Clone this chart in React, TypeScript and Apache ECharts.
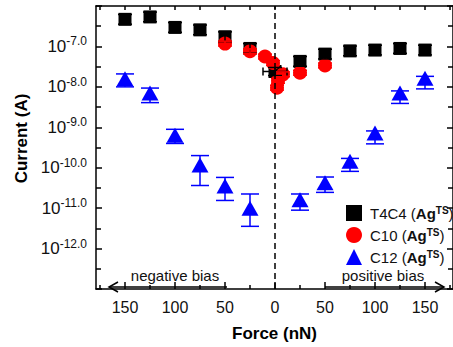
import React, { useEffect, useRef } from "react";
import * as echarts from "echarts";

// Force (nN): negative side = negative bias, shown as absolute values
const t4c4Force = [-150, -125, -100, -75, -50, -25, 0, 25, 50, 75, 100, 125, 150];
const t4c4LogI = [-6.33, -6.27, -6.53, -6.59, -6.76, -7.05, -7.62, -7.37, -7.19, -7.11, -7.09, -7.05, -7.09];
const t4c4Err = [0.12, 0.12, 0.12, 0.12, 0.12, 0.12, 0.1, 0.12, 0.12, 0.12, 0.12, 0.12, 0.12];
const t4c4ForceErr = [0, 0, 0, 0, 0, 0, 12, 0, 0, 0, 0, 0, 0];

const c10Force = [-50, -25, -10, -2, 2, 3, 8, 25, 50];
const c10LogI = [-6.93, -7.12, -7.25, -7.41, -8.02, -7.85, -7.69, -7.65, -7.47];
const c10Err = [0.06, 0.06, 0.06, 0.06, 0.06, 0.06, 0.06, 0.06, 0.06];

const c12Force = [-150, -125, -100, -75, -50, -25, 25, 50, 75, 100, 125, 150];
const c12LogI = [-7.8, -8.15, -9.2, -9.93, -10.45, -11.0, -10.79, -10.37, -9.84, -9.14, -8.15, -7.79];
const c12Hi = [-7.68, -8.03, -9.05, -9.7, -10.24, -10.65, -10.65, -10.23, -9.77, -9.09, -8.1, -7.74];
const c12Lo = [-8.0, -8.39, -9.4, -10.44, -10.81, -11.45, -11.05, -10.61, -10.09, -9.41, -8.41, -8.05];

const xMajorTicks = [-150, -100, -50, 0, 50, 100, 150];
const xMinorTicks = [-175, -125, -75, -25, 25, 75, 125, 175];
const xAllTicks = [-175, -150, -125, -100, -75, -50, -25, 0, 25, 50, 75, 100, 125, 150, 175];
const yLabelDecades = [-12, -11, -10, -9, -8, -7];

export default function App() {
  const ref = useRef<HTMLDivElement>(null);
  useEffect(() => {
    if (!ref.current) return;
    const chart = echarts.init(ref.current, null, { renderer: "svg" });
    const axisLineStyle = { color: "#000", width: 1.5 };
    const xMin = -179;
    const xMax = 178;

    const errData: any[] = [];
    t4c4Force.forEach((f, i) =>
      errData.push([f, t4c4LogI[i], t4c4LogI[i] - t4c4Err[i], t4c4LogI[i] + t4c4Err[i], t4c4ForceErr[i], "#000", 14])
    );
    c10Force.forEach((f, i) =>
      errData.push([f, c10LogI[i], c10LogI[i] - c10Err[i], c10LogI[i] + c10Err[i], 0, "#ff0000", 14])
    );
    c12Force.forEach((f, i) => errData.push([f, c12LogI[i], c12Lo[i], c12Hi[i], 0, "#0000ff", 18]));

    const option: any = {
      animation: false,
      backgroundColor: "#fff",
      grid: { left: 96, right: 0, top: 6, bottom: 50, containLabel: false },
      legend: {
        orient: "vertical",
        left: 341,
        top: 200,
        itemWidth: 16,
        itemHeight: 16,
        itemGap: 6,
        data: [
          { name: "T4C4", icon: "rect" },
          { name: "C10", icon: "circle" },
          { name: "C12", icon: "triangle" },
        ],
        formatter: (name: string) => `{n|${name} (}{b|Ag}{s|TS}{n|)}`,
        textStyle: {
          fontFamily: "Liberation Sans",
          fontSize: 15,
          padding: [0, 0, 0, 3],
          rich: {
            n: { fontSize: 15, color: "#111", fontFamily: "Liberation Sans" },
            b: { fontSize: 15, color: "#111", fontWeight: "bold", fontFamily: "Liberation Sans" },
            s: { fontSize: 10, color: "#111", fontWeight: "bold", verticalAlign: "top", fontFamily: "Liberation Sans" },
          },
        },
      },
      xAxis: [
        {
          type: "value",
          min: xMin,
          max: xMax,
          position: "bottom",
          axisLine: { show: true, onZero: false, lineStyle: axisLineStyle },
          axisTick: { show: true, inside: true, length: 7, customValues: xMajorTicks, lineStyle: axisLineStyle },
          axisLabel: {
            customValues: xMajorTicks,
            formatter: (v: number) => String(Math.abs(v)),
            fontSize: 16,
            color: "#111",
            margin: 10,
            fontFamily: "Liberation Sans",
          },
          splitLine: { show: false },
          name: "Force (nN)",
          nameLocation: "middle",
          nameGap: 36,
          nameTextStyle: { fontWeight: "bold", fontSize: 17, color: "#000", fontFamily: "Liberation Sans" },
        },
        {
          type: "value",
          min: xMin,
          max: xMax,
          position: "bottom",
          axisLine: { show: false, onZero: false },
          axisTick: { show: true, inside: true, length: 4, customValues: xMinorTicks, lineStyle: axisLineStyle },
          axisLabel: { show: false },
          splitLine: { show: false },
        },
        {
          type: "value",
          min: xMin,
          max: xMax,
          position: "top",
          axisLine: { show: true, onZero: false, lineStyle: axisLineStyle },
          axisTick: { show: true, inside: true, length: 4, customValues: xAllTicks, lineStyle: axisLineStyle },
          axisLabel: { show: false },
          splitLine: { show: false },
        },
      ],
      yAxis: [
        {
          type: "value",
          min: -13,
          max: -6,
          interval: 1,
          position: "left",
          axisLine: { show: true, onZero: false, lineStyle: axisLineStyle },
          axisTick: { show: true, inside: true, length: 6, lineStyle: axisLineStyle },
          minorTick: { show: true, splitNumber: 2, length: 5, lineStyle: axisLineStyle },
          axisLabel: {
            margin: 9,
            formatter: (v: number) =>
              yLabelDecades.indexOf(Math.round(v)) >= 0 ? `{b|10}{s|${v.toFixed(1)}}` : "",
            rich: {
              b: { fontSize: 17, color: "#111", fontFamily: "Liberation Sans", lineHeight: 22 },
              s: { fontSize: 12, color: "#111", fontFamily: "Liberation Sans", verticalAlign: "top", lineHeight: 12 },
            },
          },
          splitLine: { show: false },
          name: "Current (A)",
          nameLocation: "middle",
          nameGap: 64,
          nameTextStyle: {
            fontWeight: "bold",
            fontSize: 17,
            color: "#000",
            fontFamily: "Liberation Sans",
            padding: [0, 0, 0, 18],
          },
        },
        {
          type: "value",
          min: -13,
          max: -6,
          interval: 1,
          position: "right",
          axisLine: { show: true, onZero: false, lineStyle: axisLineStyle },
          axisTick: { show: true, inside: true, length: 6, lineStyle: axisLineStyle },
          minorTick: { show: true, splitNumber: 2, length: 5, lineStyle: axisLineStyle },
          axisLabel: { show: false },
          splitLine: { show: false },
        },
      ],
      graphic: [
        {
          type: "text",
          x: 175,
          y: 275,
          style: { text: "negative bias", align: "center", verticalAlign: "middle", fontSize: 15, fill: "#111", fontFamily: "Liberation Sans" },
        },
        {
          type: "text",
          x: 383,
          y: 275,
          style: { text: "positive bias", align: "center", verticalAlign: "middle", fontSize: 15, fill: "#111", fontFamily: "Liberation Sans" },
        },
        { type: "line", shape: { x1: 227, y1: 287, x2: 109, y2: 287 }, style: { stroke: "#000", lineWidth: 1.5 } },
        { type: "polyline", shape: { points: [[118, 282], [109, 287], [118, 292]] }, style: { stroke: "#000", lineWidth: 1.5, fill: null } },
        { type: "line", shape: { x1: 325, y1: 287, x2: 444, y2: 287 }, style: { stroke: "#000", lineWidth: 1.5 } },
        { type: "polyline", shape: { points: [[435, 282], [444, 287], [435, 292]] }, style: { stroke: "#000", lineWidth: 1.5, fill: null } },
      ],
      series: [
        {
          name: "T4C4",
          type: "scatter",
          symbol: "rect",
          symbolSize: 13,
          itemStyle: { color: "#000", opacity: 1 },
          data: t4c4Force.map((f, i) => [f, t4c4LogI[i]]),
          z: 2,
          markLine: {
            silent: true,
            symbol: "none",
            label: { show: false },
            lineStyle: { color: "#000", type: [6, 4], width: 1.5 },
            data: [{ xAxis: 0 }],
          },
        },
        {
          name: "C10",
          type: "scatter",
          symbol: "circle",
          symbolSize: 14,
          itemStyle: { color: "#ff0000", opacity: 1 },
          data: c10Force.map((f, i) => [f, c10LogI[i]]),
          z: 3,
        },
        {
          name: "C12",
          type: "scatter",
          symbol: "triangle",
          symbolSize: [17, 15],
          itemStyle: { color: "#0000ff", opacity: 1 },
          data: c12Force.map((f, i) => [f, c12LogI[i]]),
          z: 3,
        },
        {
          type: "custom",
          z: 4,
          data: errData,
          renderItem: (params: any, api: any) => {
            const x = api.value(0);
            const y = api.value(1);
            const lo = api.value(2);
            const hi = api.value(3);
            const xe = api.value(4);
            const color = errData[params.dataIndex][5];
            const cap = errData[params.dataIndex][6] / 2;
            const pt = api.coord([x, hi]);
            const pb = api.coord([x, lo]);
            const style = { stroke: color, lineWidth: 1.5 };
            const children: any[] = [
              { type: "line", shape: { x1: pt[0], y1: pt[1], x2: pb[0], y2: pb[1] }, style },
              { type: "line", shape: { x1: pt[0] - cap, y1: pt[1], x2: pt[0] + cap, y2: pt[1] }, style },
              { type: "line", shape: { x1: pb[0] - cap, y1: pb[1], x2: pb[0] + cap, y2: pb[1] }, style },
            ];
            if (xe > 0) {
              const pl = api.coord([x - xe, y]);
              const pr = api.coord([x + xe, y]);
              children.push({ type: "line", shape: { x1: pl[0], y1: pl[1], x2: pr[0], y2: pr[1] }, style });
              children.push({ type: "line", shape: { x1: pl[0], y1: pl[1] - 4, x2: pl[0], y2: pl[1] + 4 }, style });
              children.push({ type: "line", shape: { x1: pr[0], y1: pr[1] - 4, x2: pr[0], y2: pr[1] + 4 }, style });
            }
            return { type: "group", children };
          },
        },
      ],
    };
    chart.setOption(option);
    return () => chart.dispose();
  }, []);
  return <div ref={ref} style={{ position: "absolute", left: 0, top: 0, width: 453, height: 347 }} />;
}
